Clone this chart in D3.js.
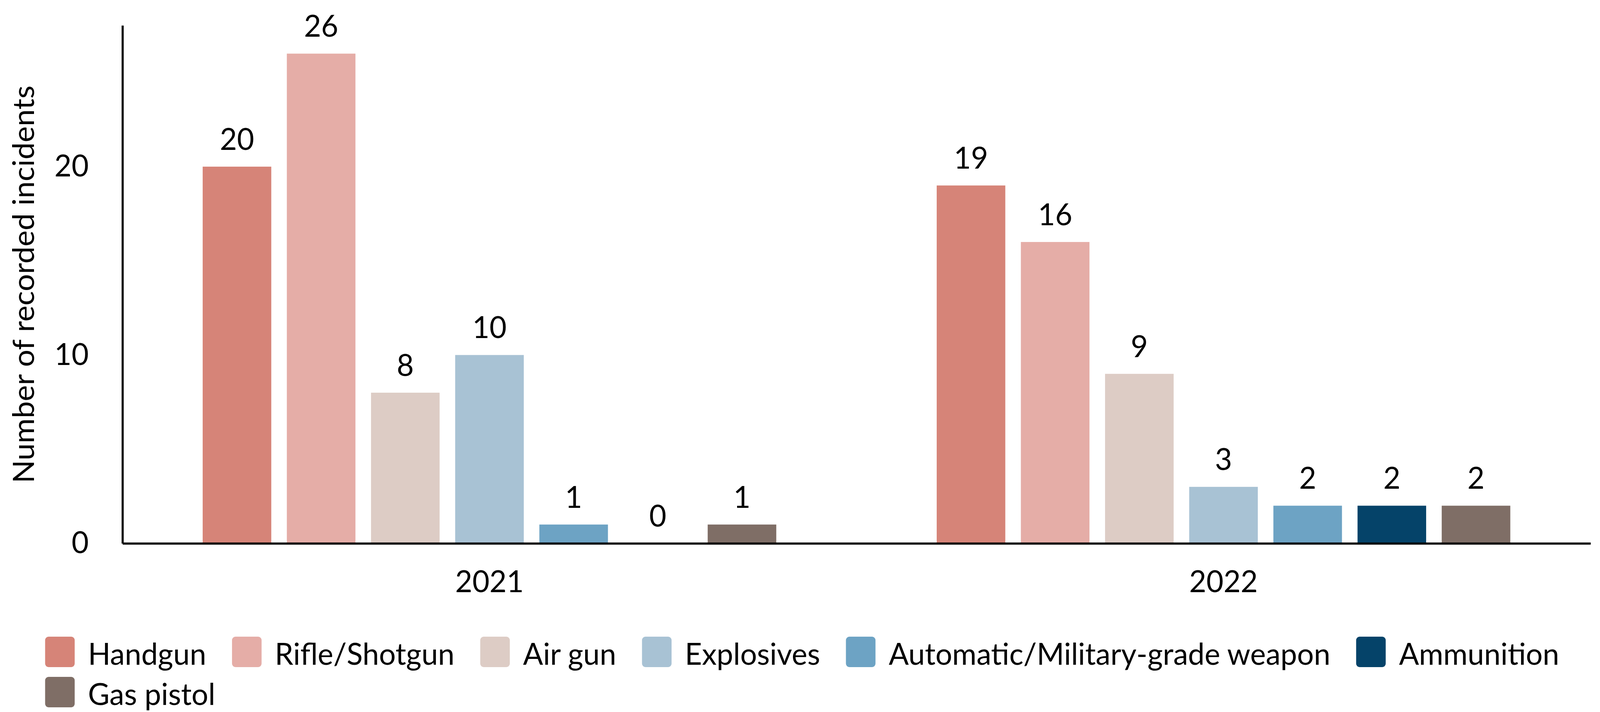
<!DOCTYPE html>
<html>
<head>
<meta charset="utf-8">
<script src="https://cdn.jsdelivr.net/npm/d3@7"></script>
<style>
  html, body { margin: 0; padding: 0; background: #fff; overflow: hidden; }
  svg { display: block; }
  text { font-family: Lato, "Noto Sans", sans-serif; fill: #000; }
</style>
</head>
<body>
<div id="chart-container"></div>
<script>
// data
const years = ["2021", "2022"];
const weaponTypes = ["Handgun", "Rifle/Shotgun", "Air gun", "Explosives", "Automatic/Military-grade weapon", "Ammunition", "Gas pistol"];
const handgun = [20, 19];
const rifleShotgun = [26, 16];
const airGun = [8, 9];
const explosives = [10, 3];
const automatic = [1, 2];
const ammunition = [0, 2];
const gasPistol = [1, 2];
const yTicks = [0, 10, 20];

const seriesValues = [handgun, rifleShotgun, airGun, explosives, automatic, ammunition, gasPistol];
const colors = ["#d68478", "#e5ada7", "#ddccc5", "#a8c2d4", "#6da3c4", "#054369", "#7f6e66"];

// chart is laid out on a 4220x1824 canvas, then fitted to the actual window
const W = 4220, H = 1824;
const margin = {top: 65, right: 25, bottom: 432, left: 323};
const fontSize = 78;

const svg = d3.select("#chart-container")
  .append("svg")
    .attr("width", window.innerWidth || W)
    .attr("height", window.innerHeight || H)
    .attr("viewBox", `0 0 ${W} ${H}`)
    .attr("preserveAspectRatio", "none");

// flat rows: one per year/type
const rows = [];
years.forEach((yr, i) => {
  weaponTypes.forEach((t, j) => rows.push({year: yr, type: t, value: seriesValues[j][i]}));
});

// scales
const x0 = d3.scaleBand()
  .domain(years)
  .range([margin.left, W - margin.right]);
const x1 = d3.scaleBand()
  .domain(weaponTypes)
  .range([0, x0.bandwidth()])
  .paddingInner(0.185)
  .paddingOuter(0.953);
const y = d3.scaleLinear()
  .domain([0, 27.5])
  .range([H - margin.bottom, margin.top]);
const color = d3.scaleOrdinal().domain(weaponTypes).range(colors);

// bars
svg.append("g")
  .selectAll("rect")
  .data(rows)
  .join("rect")
    .attr("x", d => x0(d.year) + x1(d.type))
    .attr("y", d => y(d.value))
    .attr("width", x1.bandwidth())
    .attr("height", d => y(0) - y(d.value))
    .attr("fill", d => color(d.type));

// value labels
svg.append("g")
  .selectAll("text")
  .data(rows)
  .join("text")
    .attr("x", d => x0(d.year) + x1(d.type) + x1.bandwidth() / 2)
    .attr("y", d => y(d.value) - 43)
    .attr("text-anchor", "middle")
    .style("font-size", fontSize + "px")
    .text(d => d.value);

// axes
const yAxis = svg.append("g")
  .attr("transform", `translate(${margin.left},0)`)
  .call(d3.axisLeft(y).tickValues(yTicks).tickSize(0).tickSizeOuter(0).tickPadding(89));
const xAxis = svg.append("g")
  .attr("transform", `translate(0,${y(0)})`)
  .call(d3.axisBottom(x0).tickSize(0).tickSizeOuter(0).tickPadding(70));

[yAxis, xAxis].forEach(a => {
  a.select(".domain").attr("stroke", "#000").attr("stroke-width", 5.5);
  a.selectAll("text").style("font-size", fontSize + "px").style("font-family", "Lato, 'Noto Sans', sans-serif").attr("fill", "#000");
});

// y axis title
svg.append("text")
  .attr("transform", `translate(90,${(y(0) + y(27.5)) / 2}) rotate(-90)`)
  .attr("text-anchor", "middle")
  .style("font-size", fontSize + "px")
  .text("Number of recorded incidents");

// legend, items flow left to right and wrap
const legend = svg.append("g");
const sw = 78, swGap = 35, itemGap = 68, rowH = 103;
const legendLeft = 119, legendTop = 1631, legendRight = W - margin.right;
let lx = legendLeft, ly = legendTop;
weaponTypes.forEach((t, i) => {
  const item = legend.append("g");
  item.append("rect")
    .attr("width", sw)
    .attr("height", sw)
    .attr("rx", 9)
    .attr("fill", colors[i]);
  const label = item.append("text")
    .attr("x", sw + swGap)
    .attr("y", 72)
    .style("font-size", fontSize + "px")
    .text(t);
  const w = sw + swGap + label.node().getComputedTextLength();
  if (lx + w > legendRight && lx > legendLeft) {
    lx = legendLeft;
    ly += rowH;
  }
  item.attr("transform", `translate(${lx},${ly})`);
  lx += w + itemGap;
});
</script>
</body>
</html>
